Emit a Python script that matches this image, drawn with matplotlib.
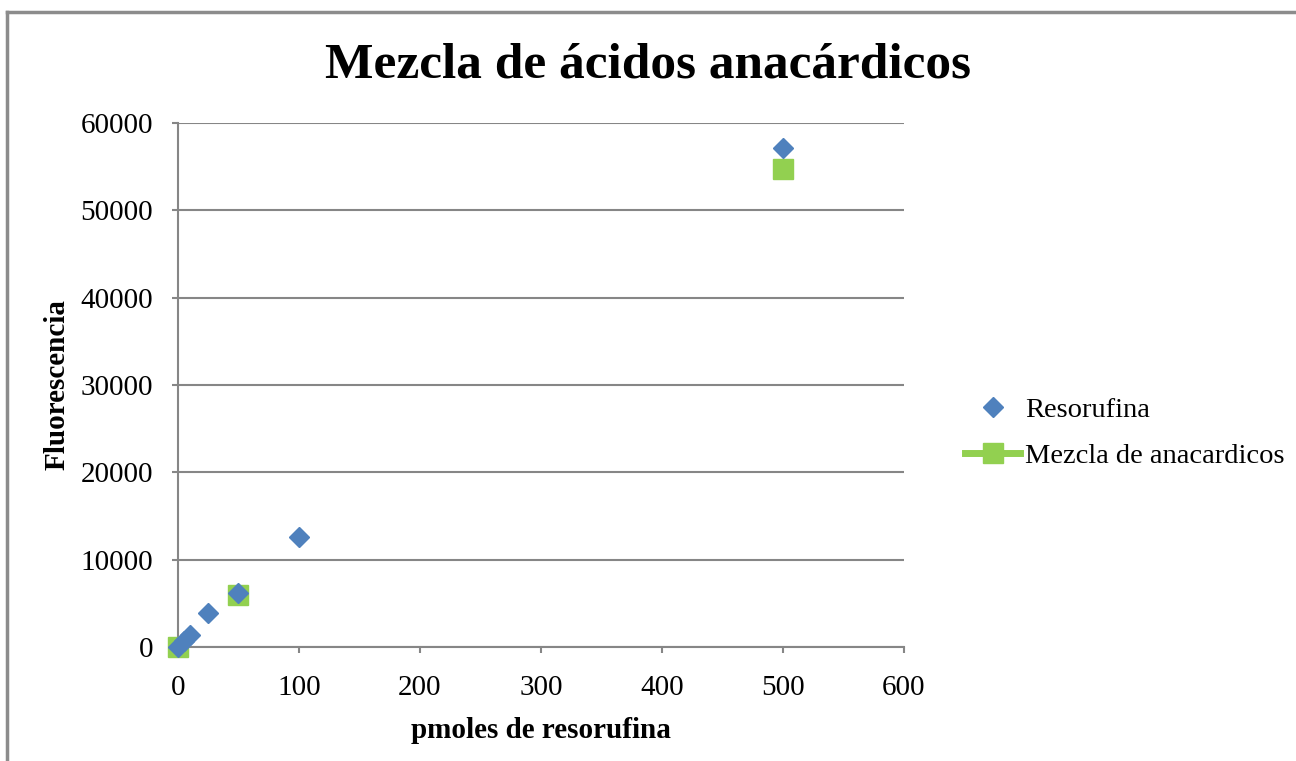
import matplotlib.pyplot as plt
from matplotlib.lines import Line2D

# resorufin standard curve and anacardic acid mixture
resorufina_x = [0, 5, 10, 25, 50, 100, 500]
resorufina_y = [0, 700, 1375, 3860, 6150, 12600, 57100]
mezcla_x = [0, 50, 500]
mezcla_y = [0, 5960, 54750]
x_ticks = [0, 100, 200, 300, 400, 500, 600]
y_ticks = [0, 10000, 20000, 30000, 40000, 50000, 60000]

blue = '#4F81BD'
green = '#92D050'
grid = '#868686'

plt.rcParams['font.family'] = ['Liberation Serif', 'DejaVu Serif']

fig = plt.figure(figsize=(12.96, 7.61), dpi=100)
ax = fig.add_axes([0.1373, 0.1498, 0.5602, 0.6886])

ax.plot(mezcla_x, mezcla_y, linestyle='none', marker='s', markersize=14,
        color=green, label='Mezcla de anacardicos', zorder=3, clip_on=False)
ax.plot(resorufina_x, resorufina_y, linestyle='none', marker='D', markersize=10,
        color=blue, label='Resorufina', zorder=4, clip_on=False)

ax.set_xlim(0, 600)
ax.set_ylim(0, 60000)
ax.set_xticks(x_ticks)
ax.set_yticks(y_ticks)
ax.tick_params(labelsize=21, color=grid, width=1.5, length=4)
ax.tick_params(axis='x', pad=16)
ax.tick_params(axis='y', pad=14)
ax.yaxis.grid(True, color=grid, linewidth=1.5)
ax.set_axisbelow(True)
for side in ['top', 'right']:
    ax.spines[side].set_visible(False)
for side in ['left', 'bottom']:
    ax.spines[side].set_color(grid)
    ax.spines[side].set_linewidth(1.5)

ax.set_xlabel('pmoles de resorufina', fontsize=21, fontweight='bold', labelpad=12)
ax.set_ylabel('Fluorescencia', fontsize=21, fontweight='bold', labelpad=7)
fig.text(0.5, 0.914, 'Mezcla de ácidos anacárdicos', ha='center', va='center',
         fontsize=37, fontweight='bold')

handles = [
    Line2D([], [], linestyle='none', marker='D', markersize=10, color=blue),
    Line2D([], [], color=green, linewidth=5, marker='s', markersize=14),
]
fig.legend(handles, ['Resorufina', 'Mezcla de anacardicos'],
           loc='center left', bbox_to_anchor=(0.725, 0.431), frameon=False,
           fontsize=20.5, handlelength=1.93, handletextpad=0.18, labelspacing=0.7)

# chart frame
fig.add_artist(Line2D([0.0055, 0.0055], [0, 0.984], color='#8C8C8C', linewidth=2.5))
fig.add_artist(Line2D([0.0055, 1.0], [0.984, 0.984], color='#8C8C8C', linewidth=2.5))

fig.savefig('out.png', dpi=100)
